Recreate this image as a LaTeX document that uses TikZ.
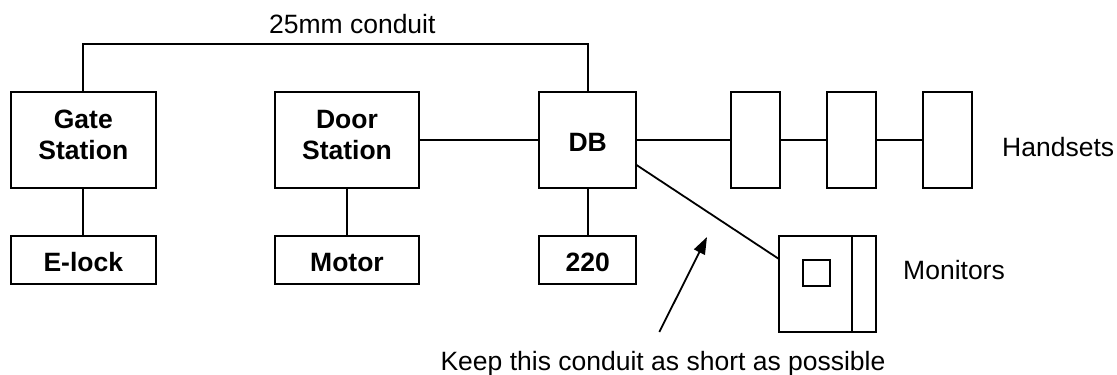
\documentclass[tikz,border=0pt]{standalone}
\usepackage{fontspec}
\setmainfont{Liberation Sans}
\usetikzlibrary{arrows.meta}

% two centred lines, nudged up a little inside their box
\newcommand\twolines[2]{\raisebox{2.2pt}[\height][\depth]{\begin{tabular}{@{}c@{}}#1\\#2\end{tabular}}}

\begin{document}
\begin{tikzpicture}[x=1pt,y=-1pt,
  box/.style={draw, line width=2pt, outer sep=0pt, inner sep=0pt, align=center,
              font=\fontsize{26.5}{31.7}\selectfont\bfseries},
  oneline/.style={text height=23.4pt, text depth=0pt},
  bigbox/.style={box, minimum width=144.5pt, minimum height=95.7pt},
  smallbox/.style={box, oneline, minimum width=144.5pt, minimum height=48pt},
  handset/.style={box, minimum width=48.5pt, minimum height=95.7pt},
  wire/.style={line width=1.8pt},
  label/.style={inner sep=0pt, font=\fontsize{26.5}{31}\selectfont}]
  \useasboundingbox (0,0) rectangle (1117,375);

  % stations and their loads
  \node[bigbox] (gate) at (83.3,140) {\twolines{Gate}{Station}};
  \node[smallbox] (elock) at (83.3,260) {E-lock};
  \node[bigbox] (door) at (347,140) {\twolines{Door}{Station}};
  \node[smallbox] (motor) at (347,260) {Motor};

  % distribution board and mains feed
  \node[box, oneline, minimum width=96.7pt, minimum height=95.7pt] (db) at (587.7,140) {DB};
  \node[box, oneline, minimum width=96.7pt, minimum height=48pt] (mains) at (587.7,260) {220};

  % handsets
  \node[handset] (h1) at (755.5,140) {};
  \node[handset] (h2) at (851.5,140) {};
  \node[handset] (h3) at (947.7,140) {};

  % monitor with screen and side strip
  \node[box, minimum width=96.7pt, minimum height=95.7pt] (mon) at (827.3,283.8) {};
  \node[draw, line width=2pt, inner sep=0pt, minimum width=27.3pt, minimum height=26.7pt]
    (screen) at ([xshift=-10.6pt,yshift=10.8pt]mon.center) {};
  \draw[line width=2pt] ([xshift=24.4pt]mon.north) -- ([xshift=24.4pt]mon.south);

  % conduits
  \coordinate (top) at (0,43.7);
  \draw[wire] (gate.north) -- (gate.north |- top) -| (db.north);
  \draw[wire] (gate.south) -- (elock.north);
  \draw[wire] (door.south) -- (motor.north);
  \draw[wire] (db.south) -- (mains.north);
  \draw[wire] (door.east) -- (db.west);
  \draw[wire] (db.east) -- (h1.west);
  \draw[wire] (h1.east) -- (h2.west);
  \draw[wire] (h2.east) -- (h3.west);
  \draw[wire] ([yshift=-24.7pt]db.east) -- ([yshift=24.8pt]mon.west);

  % labels
  \node[label, anchor=base] (conduit) at (352.3,33.3) {25mm conduit};
  \node[label, anchor=base west] (hs) at (1002,156.7) {Handsets};
  \node[label, anchor=base west] (mons) at (903,279.3) {Monitors};
  \node[label, anchor=base] (note) at (663,370) {Keep this conduit as short as possible};

  % pointer to the monitor conduit
  \coordinate (tail) at (659.3,332);
  \coordinate (tip) at (707,237);
  \draw[wire, -{Triangle[length=17pt,width=12pt]}] (tail) -- (tip);
\end{tikzpicture}
\end{document}
